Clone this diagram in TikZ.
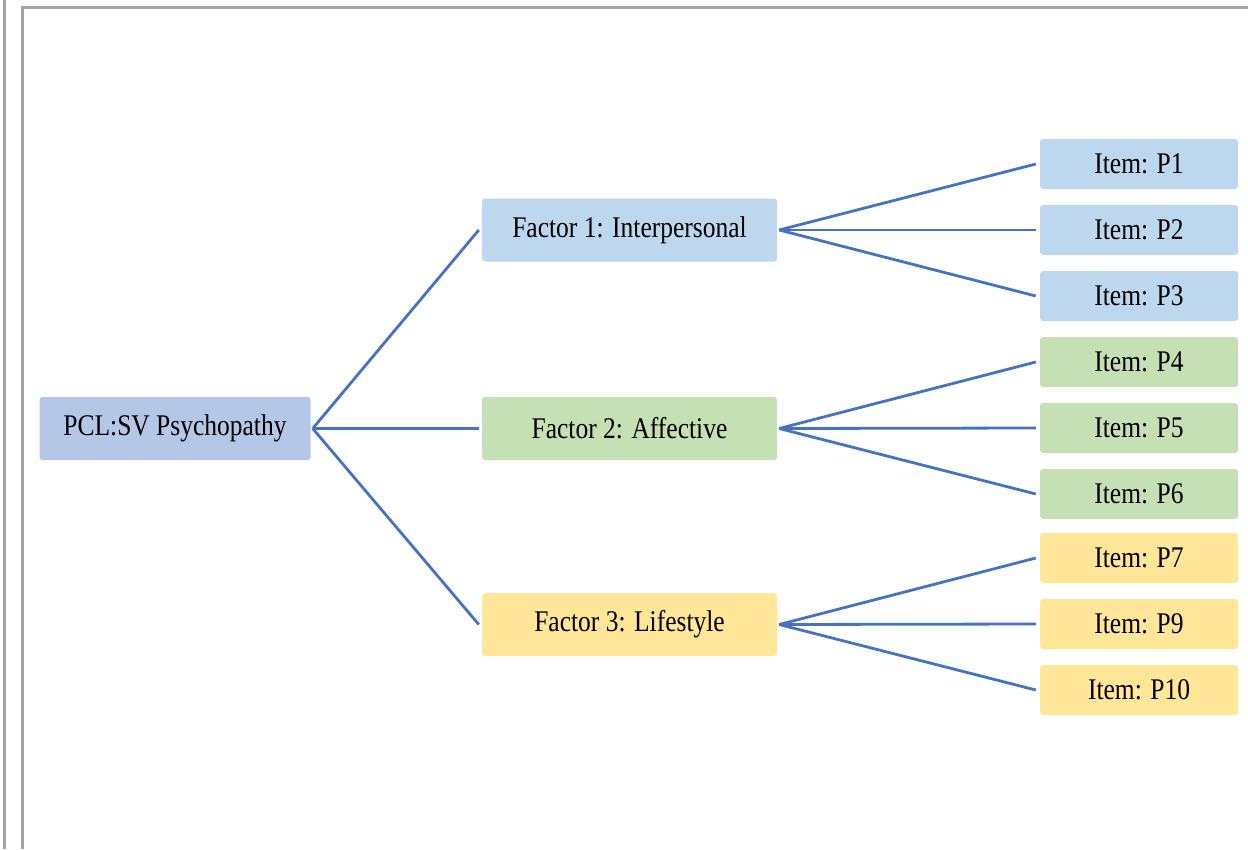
\documentclass[tikz,border=0pt]{standalone}
\usepackage{fontspec}
\usepackage{graphicx}
\setmainfont{Liberation Serif}
\newcommand\sqz[1]{\scalebox{0.85}[1]{#1}}
\begin{document}
\begin{tikzpicture}[x=1pt,y=-1pt,
  box/.style={rounded corners=3pt,inner sep=0pt,font=\fontsize{30}{32}\selectfont,text=black},
  rootbox/.style={box,fill=rootc,minimum width=271pt,minimum height=63pt},
  factorbox/.style={box,minimum width=295pt,minimum height=63pt},
  itembox/.style={box,minimum width=198pt,minimum height=50pt},
  link/.style={draw=linkc,line width=2.8pt},
  frame/.style={draw=framec,line width=3pt}]
\definecolor{rootc}{HTML}{B4C7E7}
\definecolor{bluec}{HTML}{BDD7EE}
\definecolor{greenc}{HTML}{C5E0B4}
\definecolor{yellowc}{HTML}{FFE699}
\definecolor{linkc}{HTML}{4472C4}
\definecolor{framec}{HTML}{A3A3A3}
\useasboundingbox (0,0) rectangle (1248,849);
\coordinate (fa) at (4.5,0);
\coordinate (fb) at (4.5,849);
\coordinate (fc) at (22,849);
\coordinate (fd) at (22,7);
\coordinate (fe) at (1248,7);
\draw[frame] (fa) -- (fb);
\draw[frame] (fc) -- (fd) -- (fe);
\node[rootbox] (root) at (175,428.5) {\sqz{PCL:SV Psychopathy}};
\node[factorbox,fill=bluec] (f1) at (629.5,230) {\sqz{Factor 1: Interpersonal}};
\node[factorbox,fill=greenc] (f2) at (629.5,428.5) {\sqz{Factor 2: Affective}};
\node[factorbox,fill=yellowc] (f3) at (629.5,624.5) {\sqz{Factor 3: Lifestyle}};
\node[itembox,fill=bluec] (p1) at (1139,164) {\sqz{Item: P1}};
\node[itembox,fill=bluec] (p2) at (1139,230) {\sqz{Item: P2}};
\node[itembox,fill=bluec] (p3) at (1139,296) {\sqz{Item: P3}};
\node[itembox,fill=greenc] (p4) at (1139,362) {\sqz{Item: P4}};
\node[itembox,fill=greenc] (p5) at (1139,428) {\sqz{Item: P5}};
\node[itembox,fill=greenc] (p6) at (1139,494) {\sqz{Item: P6}};
\node[itembox,fill=yellowc] (p7) at (1139,558) {\sqz{Item: P7}};
\node[itembox,fill=yellowc] (p9) at (1139,624) {\sqz{Item: P9}};
\node[itembox,fill=yellowc] (p10) at (1139,690) {\sqz{Item: P10}};
\foreach \f in {f1,f2,f3} \draw[link] ([xshift=2pt]root.east) -- ([xshift=-3pt]\f.west);
\foreach \p in {p1,p2,p3} \draw[link] ([xshift=2pt]f1.east) -- ([xshift=-4pt]\p.west);
\foreach \p in {p4,p5,p6} \draw[link] ([xshift=2pt]f2.east) -- ([xshift=-4pt]\p.west);
\foreach \p in {p7,p9,p10} \draw[link] ([xshift=2pt]f3.east) -- ([xshift=-4pt]\p.west);
\end{tikzpicture}
\end{document}
